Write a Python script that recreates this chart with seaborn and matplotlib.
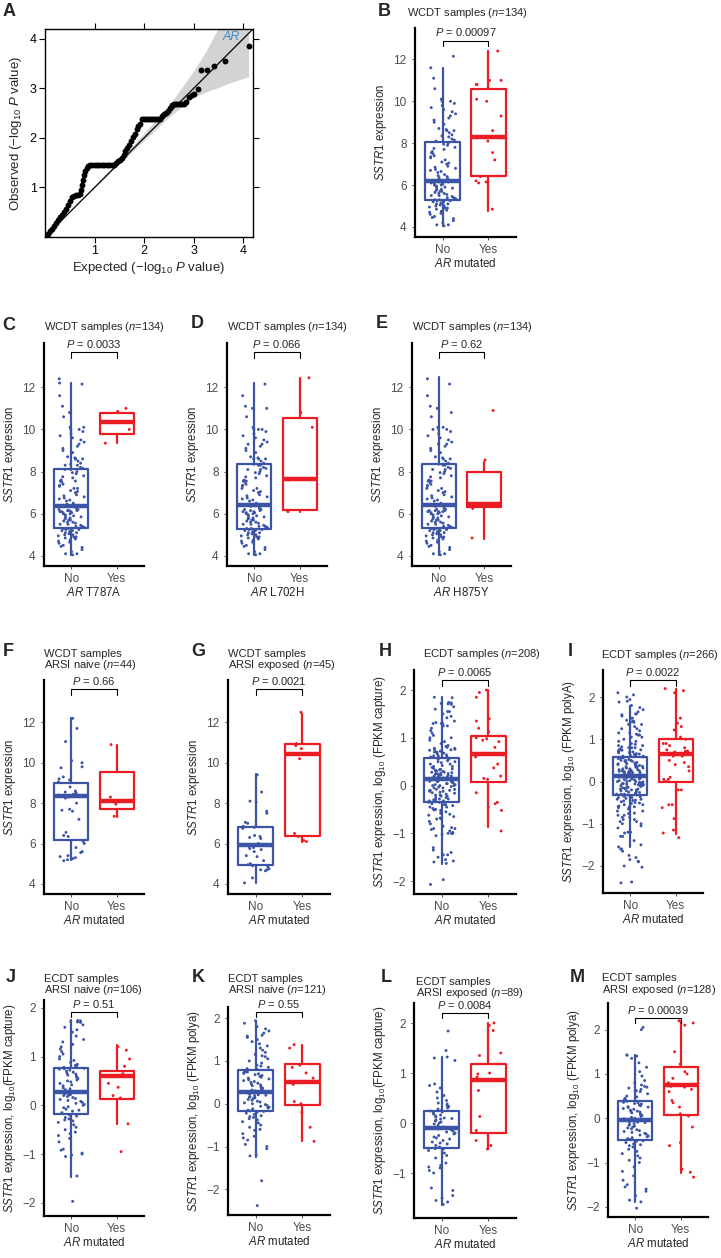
import numpy as np
import matplotlib
matplotlib.use("Agg")
import matplotlib.pyplot as plt
import seaborn as sns

sns.set_style("white")
plt.rcParams['font.family'] = ['Liberation Sans', 'DejaVu Sans']
plt.rcParams['mathtext.fontset'] = 'custom'
plt.rcParams['mathtext.rm'] = 'Liberation Sans'
plt.rcParams['mathtext.it'] = 'Liberation Sans:italic'
plt.rcParams['mathtext.bf'] = 'Liberation Sans:bold'

BLUE = "#3B54A5"
RED = "#EC1C24"
TICKGRAY = "#4D4D4D"
W, H = 721, 1258

# ---------------- panel A: QQ plot ----------------
qq_expected = [0.02, 0.06, 0.10, 0.14, 0.18, 0.22, 0.26, 0.30, 0.34, 0.38, 0.42, 0.46,
               0.50, 0.54, 0.58, 0.62, 0.66, 0.70,
               0.73, 0.75, 0.77, 0.79, 0.81, 0.84, 0.87,
               0.90, 0.95, 1.00, 1.05, 1.10, 1.15, 1.20, 1.25, 1.30, 1.35, 1.40,
               1.44, 1.48, 1.52, 1.56, 1.60, 1.62, 1.66, 1.70, 1.74, 1.78, 1.82, 1.85, 1.88, 1.92,
               1.96, 2.00, 2.04, 2.08, 2.12, 2.16, 2.20, 2.24, 2.28, 2.32,
               2.36, 2.40, 2.44, 2.48, 2.52, 2.56,
               2.60, 2.64, 2.68, 2.72, 2.76, 2.80,
               2.84, 2.90, 2.96, 3.00, 3.08, 3.15, 3.27, 3.42, 3.64, 4.11]
qq_observed = [0.02, 0.07, 0.12, 0.17, 0.23, 0.29, 0.34, 0.40, 0.45, 0.51, 0.57, 0.64,
               0.72, 0.80, 0.82, 0.84, 0.84, 0.86,
               0.95, 1.05, 1.15, 1.25, 1.33, 1.39, 1.43,
               1.45, 1.45, 1.45, 1.45, 1.45, 1.45, 1.45, 1.45, 1.45, 1.45, 1.45,
               1.50, 1.53, 1.56, 1.59, 1.65, 1.73, 1.80, 1.85, 1.93, 2.02, 2.08, 2.18, 2.24, 2.29,
               2.38, 2.38, 2.38, 2.38, 2.38, 2.38, 2.38, 2.38, 2.38, 2.38,
               2.44, 2.48, 2.51, 2.55, 2.60, 2.66,
               2.68, 2.68, 2.68, 2.68, 2.68, 2.68,
               2.72, 2.82, 2.86, 2.88, 2.99, 3.38, 3.38, 3.46, 3.56, 3.85]
band_x = [0.0, 0.5, 1.0, 1.5, 2.0, 2.5, 3.0, 3.25, 3.5, 3.75, 4.0, 4.11]
band_lo = [0.0, 0.5, 0.99, 1.47, 1.95, 2.42, 2.82, 2.93, 3.02, 3.12, 3.2, 3.24]
band_hi = [0.0, 0.5, 1.01, 1.54, 2.1, 2.65, 3.35, 3.75, 4.22, 4.6, 5.0, 5.2]

# ---------------- WCDT expression values ----------------
wcdt_no = [4.05, 4.1, 4.1, 4.2, 4.3, 4.4, 4.45, 4.5, 4.6, 4.65, 4.7, 4.75, 4.8, 4.85, 4.9,
           4.9, 4.95, 5.0, 5.0, 5.05, 5.1, 5.1, 5.15, 5.2, 5.2, 5.25, 5.25, 5.3, 5.3,
           5.35, 5.35, 5.4, 5.4, 5.45, 5.5, 5.5, 5.55, 5.6, 5.6, 5.65, 5.7, 5.7, 5.75, 5.8,
           5.8, 5.85, 5.9, 5.9, 5.95, 6.0, 6.0, 6.05, 6.05, 6.1, 6.1, 6.15, 6.15, 6.2,
           6.25, 6.3, 6.35, 6.4, 6.45, 6.5, 6.6, 6.65, 6.7, 6.75, 6.8, 6.85, 6.9, 7.0, 7.05,
           7.1, 7.2, 7.3, 7.35, 7.4, 7.5, 7.55, 7.6, 7.7, 7.75, 7.8, 7.9, 7.95, 8.0,
           8.1, 8.15, 8.2, 8.3, 8.35, 8.4, 8.5, 8.6, 8.6, 8.65, 8.7, 8.9, 9.0, 9.1, 9.2,
           9.3, 9.4, 9.5, 9.6, 9.7, 9.8, 9.9, 10.0, 10.0, 10.1, 10.6, 11.1, 11.6, 12.15]
wcdt_yes = [4.85, 6.1, 6.15, 6.2, 6.4, 7.2, 7.55, 8.1, 8.3, 8.6, 9.3, 10.0, 10.1, 10.8,
            10.8, 11.0, 11.0, 12.4]

t787a_yes = [9.35, 10.0, 10.85, 11.0]
t787a_no = wcdt_no + [4.85, 6.1, 6.15, 6.2, 6.4, 7.2, 7.55, 8.1, 8.3, 8.6, 10.1, 10.8, 12.2, 12.4]
l702h_yes = [6.1, 6.15, 7.6, 10.1, 10.8, 12.45]
l702h_no = wcdt_no + [4.85, 6.2, 6.4, 7.2, 7.55, 8.1, 8.3, 8.6, 9.3, 10.0, 11.0, 11.0]
h875y_yes = [4.85, 6.25, 6.45, 8.55, 10.9]
h875y_no = wcdt_no + [6.1, 6.15, 6.2, 7.2, 7.55, 8.1, 8.3, 9.3, 10.0, 10.1, 10.8, 11.0, 12.4]

naive_no = [12.2, 11.7, 11.05, 10.1, 10.0, 9.8, 9.75, 9.3, 9.2, 9.15, 9.05, 8.8, 8.6, 8.55,
            8.5, 8.45, 8.4, 8.4, 8.35, 8.3, 8.25, 8.0, 7.7, 7.65, 7.6, 7.2, 6.55, 6.4, 6.35,
            6.1, 6.0, 5.8, 5.6, 5.55, 5.4, 5.35, 5.3, 5.25, 5.2, 5.15]
naive_yes = [7.35, 7.95, 8.3, 10.9]
exposed_no = [9.4, 8.55, 8.1, 8.05, 7.6, 7.5, 7.05, 7.0, 6.85, 6.8, 6.75, 6.4, 6.35, 6.3,
              6.25, 6.0, 5.95, 5.9, 5.85, 5.8, 5.75, 5.7, 5.6, 5.4, 5.35, 5.15, 5.0, 4.95,
              4.9, 4.85, 4.75, 4.7, 4.7, 4.65, 4.3, 4.05]
exposed_yes = [6.1, 6.15, 6.35, 6.5, 10.2, 10.7, 10.85, 10.95, 12.5]

# ---------------- ECDT expression values (log10 FPKM) ----------------
j_no = [-1.97, -1.45, -1.05, -1.02, -1.0, -0.98, -0.92, -0.9, -0.75, -0.68, -0.62, -0.58,
        -0.55, -0.5, -0.45, -0.4, -0.35, -0.32, -0.3, -0.28, -0.25, -0.22, -0.2,
        -0.15, -0.12, -0.1, -0.08, -0.05, -0.03, 0.0, 0.02, 0.04, 0.06, 0.08, 0.1, 0.12,
        0.14, 0.16, 0.18, 0.2, 0.21, 0.22, 0.24, 0.25, 0.26, 0.27,
        0.28, 0.3, 0.32, 0.34, 0.36, 0.4, 0.42, 0.45, 0.48, 0.5, 0.52, 0.55, 0.58, 0.6,
        0.62, 0.64, 0.66, 0.68, 0.7, 0.72, 0.74, 0.75, 0.76,
        0.78, 0.8, 0.82, 0.84, 0.88, 0.92, 0.95, 1.0, 1.05, 1.1, 1.15, 1.2, 1.25, 1.3,
        1.35, 1.42, 1.5, 1.55, 1.6, 1.65, 1.7, 1.71, 1.72, 1.73, 1.74]
j_yes = [-0.95, -0.38, 0.15, 0.2, 0.37, 0.45, 0.6, 0.65, 0.8, 0.95, 1.13, 1.2]
l_no = [-1.63, -1.58, -1.55, -1.5, -1.45, -1.35, -1.3, -1.0, -0.95, -0.9, -0.88, -0.85,
        -0.8, -0.7, -0.65, -0.6, -0.55, -0.52, -0.51,
        -0.48, -0.45, -0.42, -0.4, -0.38, -0.35, -0.32, -0.3, -0.28, -0.25, -0.22, -0.2,
        -0.18, -0.16, -0.14, -0.12, -0.11, -0.1,
        -0.08, -0.05, -0.02, 0.0, 0.02, 0.04, 0.06, 0.08, 0.09, 0.1, 0.12, 0.14, 0.16, 0.18,
        0.2, 0.22, 0.24, 0.25,
        0.28, 0.3, 0.33, 0.35, 0.38, 0.4, 0.45, 0.5, 0.55, 0.62, 0.7, 0.75, 0.78, 1.25, 1.3,
        1.32, 1.45, 1.84]
l_yes = [-0.52, -0.45, -0.35, -0.15, 0.13, 0.65, 0.92, 0.98, 1.0, 1.35, 1.4, 1.85, 1.95, 2.0]
k_no = [-2.38, -1.8, -1.22, -1.2, -1.05, -1.0, -0.95, -0.85, -0.8, -0.76, -0.7, -0.62, -0.6,
        -0.55, -0.5, -0.45, -0.42, -0.38, -0.35, -0.32, -0.3, -0.28, -0.25, -0.22, -0.2,
        -0.18, -0.17,
        -0.15, -0.12, -0.1, -0.08, -0.06, -0.04, -0.02, 0.0, 0.02, 0.04, 0.06, 0.08, 0.1,
        0.12, 0.14, 0.15, 0.16, 0.18, 0.2, 0.21, 0.22, 0.23, 0.24, 0.25, 0.26, 0.27, 0.28,
        0.3, 0.32, 0.34, 0.36, 0.38, 0.4, 0.42, 0.44, 0.46, 0.48, 0.5, 0.52, 0.54, 0.56,
        0.58, 0.6, 0.62, 0.64, 0.66, 0.68, 0.7, 0.71, 0.72, 0.74, 0.75, 0.76, 0.77,
        0.8, 0.82, 0.85, 0.88, 0.9, 0.95, 1.0, 1.05, 1.1, 1.12, 1.15, 1.2, 1.25, 1.3, 1.35,
        1.4, 1.45, 1.5, 1.55, 1.58, 1.6, 1.65, 1.7, 1.75, 1.8, 1.88, 1.94]
k_yes = [-0.88, -0.55, -0.2, 0.0, 0.05, 0.45, 0.5, 0.6, 0.72, 0.85, 0.9, 1.3, 1.38]
m_no = [-2.03, -1.89, -1.85, -1.75, -1.65, -1.6, -1.55, -1.5, -1.4, -1.3, -1.2, -1.1, -1.0,
        -0.95, -0.9, -0.85, -0.8, -0.75, -0.7, -0.65, -0.62, -0.6, -0.58, -0.55, -0.52, -0.51,
        -0.48, -0.46, -0.44, -0.42, -0.4, -0.38, -0.36, -0.34, -0.32, -0.3, -0.28, -0.26,
        -0.24, -0.22, -0.2, -0.18, -0.16, -0.14, -0.12, -0.1, -0.09, -0.08, -0.07, -0.06,
        -0.05, -0.05,
        -0.03, -0.01, 0.0, 0.02, 0.04, 0.06, 0.08, 0.1, 0.12, 0.14, 0.15, 0.16, 0.18, 0.2,
        0.22, 0.24, 0.25, 0.26, 0.28, 0.3, 0.32, 0.33, 0.35, 0.36, 0.37, 0.38,
        0.4, 0.42, 0.45, 0.48, 0.5, 0.55, 0.6, 0.62, 0.65, 0.68, 0.7, 0.72, 0.75, 0.8, 0.85,
        0.95, 1.05, 1.15, 1.25, 1.35, 1.4, 1.42, 1.43, 2.0, 2.05]
m_yes = [-1.33, -1.22, -1.15, -0.62, -0.55, -0.2, 0.05, 0.1, 0.25, 0.35, 0.4, 0.6, 0.65,
         0.7, 0.72, 0.75, 0.8, 0.9, 1.0, 1.05, 1.22, 1.5, 2.1, 2.15, 2.2]
capture_extra = [-2.07, -1.6, -1.4, -1.0, -0.7, -0.3, 0.0, 0.3, 0.6, 1.0, 1.3, 1.55, 1.85]
polya_extra = [-2.4, -2.0, -1.9, -1.6, -1.3, -0.9, -0.6, -0.3, 0.0, 0.2, 0.5, 0.8, 1.1, 1.5,
               1.6, 1.9, 2.1]
capture_no = j_no + l_no + capture_extra
capture_yes = j_yes + l_yes
polya_no = k_no + m_no + polya_extra
polya_yes = k_yes + m_yes

# box statistics: whisker low, Q1, median, Q3, whisker high
box_b = ([4.05, 5.3, 6.2, 8.05, 11.6], [4.75, 6.45, 8.3, 10.6, 12.4])
box_c = ([4.03, 5.31, 6.39, 8.1, 12.19], [9.35, 9.77, 10.36, 10.8, 10.85])
box_d = ([4.03, 5.29, 6.42, 8.37, 12.19], [6.1, 6.18, 7.65, 10.52, 12.45])
box_e = ([4.03, 5.32, 6.42, 8.37, 12.48], [4.78, 6.34, 6.45, 8.0, 8.46])
box_f = ([5.19, 6.17, 8.35, 9.0, 12.2], [7.33, 7.71, 8.12, 9.52, 10.88])
box_g = ([4.03, 4.94, 5.91, 6.8, 9.43], [6.1, 6.39, 10.45, 10.91, 12.41])
box_h = ([-1.64, -0.35, 0.13, 0.57, 1.85], [-0.87, 0.08, 0.66, 1.03, 2.0])
box_i = ([-1.54, -0.33, 0.14, 0.58, 1.78], [-1.24, -0.02, 0.66, 1.0, 2.19])
box_j = ([-1.47, -0.17, 0.27, 0.77, 1.74], [-0.39, 0.13, 0.6, 0.71, 1.23])
box_k = ([-1.24, -0.16, 0.28, 0.78, 1.94], [-0.88, -0.03, 0.5, 0.92, 1.38])
box_l = ([-1.63, -0.5, -0.1, 0.25, 1.32], [-0.52, -0.19, 0.87, 1.18, 2.0])
box_m = ([-1.89, -0.5, -0.05, 0.39, 1.43], [-1.23, 0.07, 0.74, 1.15, 2.2])

p_values = ["0.00097", "0.0033", "0.066", "0.62", "0.66", "0.0021",
            "0.0065", "0.0022", "0.51", "0.55", "0.0084", "0.00039"]

fig = plt.figure(figsize=(W / 100, H / 100), dpi=100)


def add_axes(l, r, t, b):
    return fig.add_axes([l / W, 1 - b / H, (r - l) / W, (b - t) / H])


def ftext(x, y, s, **kw):
    fig.text(x / W, 1 - y / H, s, **kw)


def box_panel(ax, no, yes, boxes, ylim, yticks, bracket_y, pval, xlabel, ylabel, seed=3):
    groups = ["No"] * len(no) + ["Yes"] * len(yes)
    np.random.seed(seed)
    sns.stripplot(x=groups, y=no + yes, hue=groups, palette={"No": BLUE, "Yes": RED},
                  order=["No", "Yes"], jitter=0.3, size=2.1, linewidth=0, legend=False,
                  ax=ax, zorder=3)
    for pos, st, col in ((0, boxes[0], BLUE), (1, boxes[1], RED)):
        stats = [dict(whislo=st[0], q1=st[1], med=st[2], q3=st[3], whishi=st[4], fliers=[])]
        ax.bxp(stats, positions=[pos], widths=0.75, showfliers=False, showcaps=False,
               manage_ticks=False,
               boxprops=dict(color=col, lw=1.6),
               whiskerprops=dict(color=col, lw=1.6),
               medianprops=dict(color=col, lw=3.2, solid_capstyle="butt"))
    ax.set_xlim(-0.6, 1.6)
    ax.set_ylim(*ylim)
    ax.set_yticks(yticks)
    ax.set_xticks([0, 1])
    ax.set_xticklabels(["No", "Yes"])
    sns.despine(ax=ax)
    for side in ("left", "bottom"):
        ax.spines[side].set_linewidth(1.6)
        ax.spines[side].set_color("black")
    ax.tick_params(left=True, bottom=True, length=2, width=0.7, color=TICKGRAY,
                   labelcolor=TICKGRAY, labelsize=8.5, pad=3)
    ax.tick_params(axis="y", pad=4)
    d = 0.025 * (ylim[1] - ylim[0])
    ax.plot([0, 0, 1, 1], [bracket_y - d, bracket_y, bracket_y, bracket_y - d],
            color="black", lw=0.8)
    ax.annotate("$\\it{P}$ = " + pval, (0.5, bracket_y), xytext=(0, 1.5),
                textcoords="offset points", ha="center", va="bottom", fontsize=8)
    ax.set_xlabel(xlabel, fontsize=8.3, labelpad=1)
    ax.set_ylabel(ylabel, fontsize=8.3, labelpad=3)


# ---- A ----
axA = add_axes(45, 253, 29, 237)
axA.fill_between(band_x, band_lo, band_hi, color="#D3D3D3", lw=0, zorder=1)
axA.plot([0, 4.2], [0, 4.2], color="black", lw=0.9, zorder=2)
sns.scatterplot(x=qq_expected, y=qq_observed, color="black", s=18, linewidth=0,
                ax=axA, zorder=3)
axA.set_xlim(0, 4.2)
axA.set_ylim(0, 4.2)
axA.set_xticks([1, 2, 3, 4])
axA.set_yticks([1, 2, 3, 4])
for sp in axA.spines.values():
    sp.set_visible(True)
    sp.set_linewidth(1.0)
    sp.set_color("black")
axA.tick_params(direction="out", length=4, width=0.8, top=True, right=True, bottom=True,
                left=True, labelsize=9, pad=2, colors="black")
axA.text(3.76, 4.04, "AR", color="#3E8ACB", style="italic", fontsize=9,
         ha="center", va="center")
axA.set_xlabel("Expected (\u2212log$_{10}$ $\\it{P}$ value)", fontsize=9.5, labelpad=2)
axA.set_ylabel("Observed (\u2212log$_{10}$ $\\it{P}$ value)", fontsize=9.5, labelpad=4)

wc_y = "$\\it{SSTR1}$ expression"
ar_mut = "$\\it{AR}$ mutated"
wc_ticks = [4, 6, 8, 10, 12]
ec_ticks = [-2, -1, 0, 1, 2]

# ---- B ----
axB = add_axes(415, 516, 28, 237)
box_panel(axB, wcdt_no, wcdt_yes, box_b, (3.52, 13.5), wc_ticks, 12.9, p_values[0], ar_mut, wc_y)

# ---- C, D, E ----
axC = add_axes(44, 144, 343, 566)
box_panel(axC, t787a_no, t787a_yes, box_c, (3.52, 14.1), wc_ticks, 13.67, p_values[1],
          "$\\it{AR}$ T787A", wc_y)
axD = add_axes(227, 327, 343, 566)
box_panel(axD, l702h_no, l702h_yes, box_d, (3.52, 14.1), wc_ticks, 13.67, p_values[2],
          "$\\it{AR}$ L702H", wc_y)
axE = add_axes(412, 511, 343, 566)
box_panel(axE, h875y_no, h875y_yes, box_e, (3.52, 14.1), wc_ticks, 13.67, p_values[3],
          "$\\it{AR}$ H875Y", wc_y)

# ---- F, G, H, I ----
axF = add_axes(44, 144, 680, 894)
box_panel(axF, naive_no, naive_yes, box_f, (3.5, 14.1), wc_ticks, 13.63, p_values[4], ar_mut, wc_y)
axG = add_axes(228, 330, 680, 894)
box_panel(axG, exposed_no, exposed_yes, box_g, (3.5, 14.1), wc_ticks, 13.63, p_values[5],
          ar_mut, wc_y)
axH = add_axes(414, 516, 670, 894)
box_panel(axH, capture_no, capture_yes, box_h, (-2.27, 2.42), ec_ticks, 2.21, p_values[6],
          ar_mut, "$\\it{SSTR1}$ expression, log$_{10}$ (FPKM capture)")
axI = add_axes(603, 703, 670, 893)
box_panel(axI, polya_no, polya_yes, box_i, (-2.64, 2.64), ec_ticks, 2.40, p_values[7],
          ar_mut, "$\\it{SSTR1}$ expression, log$_{10}$ (FPKM polyA)")

# ---- J, K, L, M ----
axJ = add_axes(44, 144, 1000, 1216)
box_panel(axJ, j_no, j_yes, box_j, (-2.27, 2.16), ec_ticks, 1.92, p_values[8],
          ar_mut, "$\\it{SSTR1}$ expression, log$_{10}$(FPKM capture)")
axK = add_axes(228, 330, 1007, 1215)
box_panel(axK, k_no, k_yes, box_k, (-2.6, 2.26), ec_ticks, 2.14, p_values[9],
          ar_mut, "$\\it{SSTR1}$ expression, log$_{10}$ (FPKM polya)")
axL = add_axes(414, 516, 1003, 1218)
box_panel(axL, l_no, l_yes, box_l, (-1.9, 2.4), [-1, 0, 1, 2], 2.2, p_values[10],
          ar_mut, "$\\it{SSTR1}$ expression, log$_{10}$(FPKM capture)")
axM = add_axes(608, 708, 1003, 1217)
box_panel(axM, m_no, m_yes, box_m, (-2.23, 2.6), ec_ticks, 2.27, p_values[11],
          ar_mut, "$\\it{SSTR1}$ expression, log$_{10}$ (FPKM polya)")

# ---- titles ----
tk = dict(fontsize=8, ha="left", va="center")
ftext(407, 13, "WCDT samples ($\\it{n}$=134)", **tk)
for x in (44, 227, 412):
    ftext(x, 327, "WCDT samples ($\\it{n}$=134)", **tk)
ftext(44, 654, "WCDT samples", **tk)
ftext(44, 665, "ARSI naive ($\\it{n}$=44)", **tk)
ftext(228, 654, "WCDT samples", **tk)
ftext(228, 665, "ARSI exposed ($\\it{n}$=45)", **tk)
ftext(423, 654, "ECDT samples ($\\it{n}$=208)", **tk)
ftext(601, 655, "ECDT samples ($\\it{n}$=266)", **tk)
ftext(44, 979, "ECDT samples", **tk)
ftext(44, 990, "ARSI naive ($\\it{n}$=106)", **tk)
ftext(228, 979, "ECDT samples", **tk)
ftext(228, 990, "ARSI naive ($\\it{n}$=121)", **tk)
ftext(416, 982, "ECDT samples", **tk)
ftext(416, 993, "ARSI exposed ($\\it{n}$=89)", **tk)
ftext(602, 978, "ECDT samples", **tk)
ftext(602, 990, "ARSI exposed ($\\it{n}$=128)", **tk)

# ---- panel letters ----
letters = [("A", 9, 12), ("B", 384, 12), ("C", 9, 326), ("D", 197, 324), ("E", 382, 324),
           ("F", 8, 652), ("G", 198, 652), ("H", 385, 651), ("I", 570, 651),
           ("J", 11, 978), ("K", 198, 977), ("L", 386, 978), ("M", 577, 977)]
for s, x, y in letters:
    ftext(x, y, s, fontsize=13, fontweight="bold", ha="center", va="center")

fig.savefig("out.png", dpi=100, facecolor="white")
